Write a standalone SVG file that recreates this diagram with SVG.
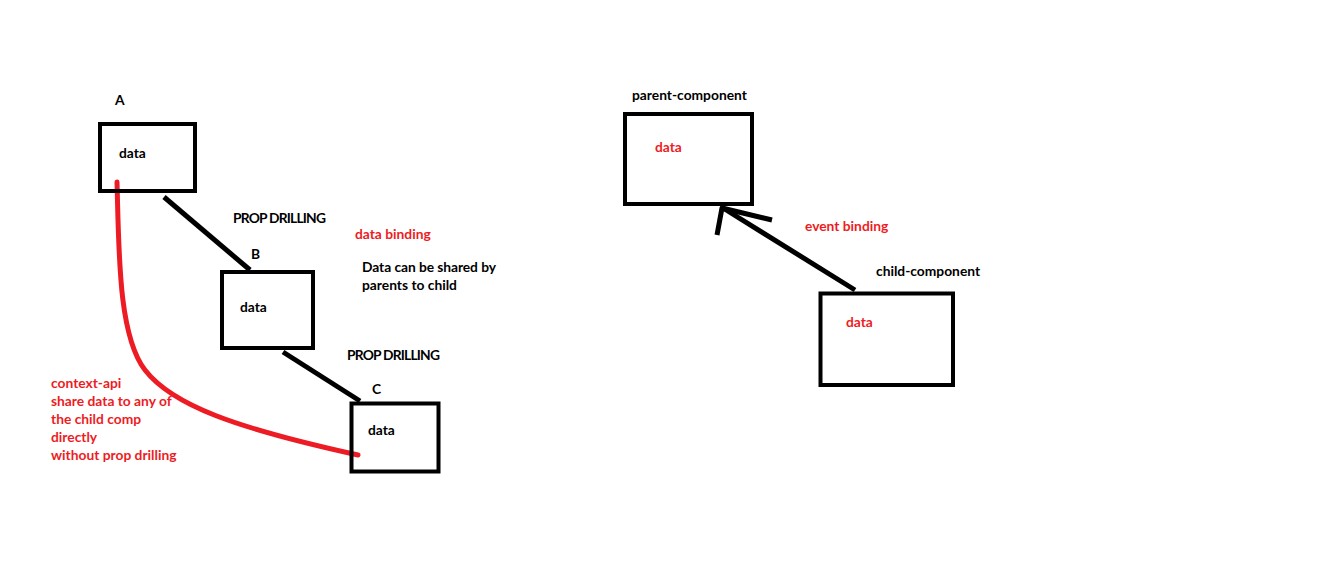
<svg xmlns="http://www.w3.org/2000/svg" width="1330" height="574" viewBox="0 0 1330 574">
  <style>
    .box { fill: none; stroke: #000; stroke-width: 4; }
    .link { fill: none; stroke: #000; stroke-width: 5; stroke-linecap: butt; }
    .ctx { fill: none; stroke: #ed1c24; stroke-width: 5; stroke-linecap: round; }
    text { font-family: Lato, "Liberation Sans", sans-serif; font-size: 13.8px; font-weight: bold; }
    .k { fill: #000; }
    .r { fill: #ed1c24; }
  </style>
  <rect width="1330" height="574" fill="#fff"/>

  <!-- connectors -->
  <g id="connectors">
    <line class="link" x1="164" y1="197" x2="250" y2="270"/>
    <line class="link" x1="283" y1="352" x2="360" y2="401"/>
    <path class="ctx" d="M117,182 C119,250 118,335 145,370 C172,405 235,428 358,455"/>
    <!-- event binding arrow, child to parent -->
    <line class="link" x1="855" y1="290" x2="723" y2="208"/>
    <path class="link" d="M717,235 L722,208 L772,220" stroke-linejoin="round" stroke-linecap="round"/>
  </g>

  <!-- prop drilling side -->
  <g id="node-a">
    <text class="k" x="115" y="105">A</text>
    <rect class="box" x="100" y="124" width="95" height="67"/>
    <text class="k" x="119" y="158">data</text>
  </g>
  <g id="node-b">
    <text class="k" x="251" y="259">B</text>
    <rect class="box" x="222" y="272" width="91" height="76"/>
    <text class="k" x="240" y="312">data</text>
  </g>
  <g id="node-c">
    <text class="k" x="372" y="394">C</text>
    <rect class="box" x="351.5" y="403.5" width="87" height="68"/>
    <text class="k" x="368" y="435">data</text>
  </g>

  <g id="labels-left">
    <text class="k" x="233" y="223" textLength="93">PROP DRILLING</text>
    <text class="k" x="347" y="360" textLength="93">PROP DRILLING</text>
    <text class="r" x="355" y="239">data binding</text>
    <text class="k" x="362" y="272" textLength="134">Data can be shared by</text>
    <text class="k" x="362" y="290">parents to child</text>
    <text class="r" x="51" y="388">context-api</text>
    <text class="r" x="51" y="406">share data to any of</text>
    <text class="r" x="51" y="424">the child comp</text>
    <text class="r" x="51" y="442">directly</text>
    <text class="r" x="51" y="460">without prop drilling</text>
  </g>

  <!-- event binding side -->
  <g id="parent-component">
    <text class="k" x="632" y="100">parent-component</text>
    <rect class="box" x="625" y="114" width="127" height="90"/>
    <text class="r" x="655" y="152">data</text>
  </g>
  <g id="child-component">
    <text class="k" x="876" y="276">child-component</text>
    <rect class="box" x="820.5" y="293.5" width="132.5" height="91.5"/>
    <text class="r" x="846" y="327">data</text>
  </g>
  <text class="r" x="805" y="231">event binding</text>
</svg>
